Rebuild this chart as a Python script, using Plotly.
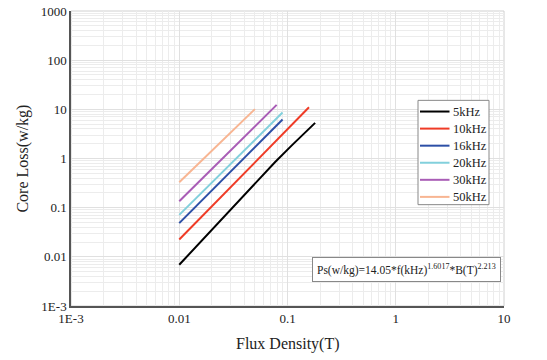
import plotly.graph_objects as go

# Data
series_names = ["5kHz", "10kHz", "16kHz", "20kHz", "30kHz", "50kHz"]
b_5k = [0.01, 0.0765, 0.109, 0.18]
p_5k = [0.0069, 0.84, 1.83, 5.3]
b_10k = [0.01, 0.1, 0.158]
p_10k = [0.0225, 3.8, 11.0]
b_16k = [0.01, 0.09]
p_16k = [0.0484, 6.2]
b_20k = [0.01, 0.09]
p_20k = [0.0714, 8.6]
b_30k = [0.01, 0.0794]
p_30k = [0.135, 12.3]
b_50k = [0.01, 0.05]
p_50k = [0.33, 10.1]

x_tickvals = [0.001, 0.01, 0.1, 1, 10]
x_ticktext = ["1E-3", "0.01", "0.1", "1", "10"]
y_tickvals = [0.001, 0.01, 0.1, 1, 10, 100, 1000]
y_ticktext = ["1E-3", "0.01", "0.1", "1", "10", "100", "1000"]

colors = ["#000000", "#ef3b26", "#2c4fa6", "#82d0dc", "#a95db6", "#f8b592"]
xs = [b_5k, b_10k, b_16k, b_20k, b_30k, b_50k]
ys = [p_5k, p_10k, p_16k, p_20k, p_30k, p_50k]

FONT = "Times New Roman, Liberation Serif, serif"

W, H = 547, 360
ML, MR, MT, MB = 71, 43, 11, 53.5
PW, PH = W - ML - MR, H - MT - MB


def px_x(px):
    return (px - ML) / PW


def px_y(py):
    return (H - MB - py) / PH


fig = go.Figure()
for name, x, y, c in zip(series_names, xs, ys, colors):
    fig.add_trace(go.Scatter(x=x, y=y, mode="lines", name=name,
                             line=dict(color=c, width=2), showlegend=False))

grid = "#ececec"
fig.update_xaxes(type="log", range=[-3, 1], tickvals=x_tickvals, ticktext=x_ticktext,
                 showgrid=True, gridcolor="#e0e0e0", gridwidth=1,
                 minor=dict(dtick="D1", showgrid=True, gridcolor=grid, gridwidth=1, ticks=""),
                 showline=True, linecolor="#555555", linewidth=1.5, zeroline=False,
                 automargin=False,
                 ticks="", tickfont=dict(family=FONT, size=13, color="#222"))
fig.update_yaxes(type="log", range=[-3, 3], tickvals=y_tickvals, ticktext=y_ticktext,
                 showgrid=True, gridcolor="#e0e0e0", gridwidth=1,
                 minor=dict(dtick="D1", showgrid=True, gridcolor=grid, gridwidth=1, ticks=""),
                 showline=True, linecolor="#555555", linewidth=1.5, zeroline=False,
                 automargin=False,
                 ticks="", tickfont=dict(family=FONT, size=13, color="#222"))

fig.add_shape(type="rect", xref="paper", yref="paper", x0=0, y0=0, x1=1, y1=1,
              line=dict(color="#d0d0d0", width=1), layer="below")

# legend box (drawn by hand to match the compact reference legend)
fig.add_shape(type="rect", xref="paper", yref="paper",
              x0=px_x(418), x1=px_x(489), y0=px_y(205), y1=px_y(100.5),
              line=dict(color="#888888", width=1), fillcolor="white", layer="above")
for i, (name, c) in enumerate(zip(series_names, colors)):
    yy = 111.7 + i * 17.1
    fig.add_shape(type="line", xref="paper", yref="paper",
                  x0=px_x(420), x1=px_x(449.5), y0=px_y(yy), y1=px_y(yy),
                  line=dict(color=c, width=2), layer="above")
    fig.add_annotation(xref="paper", yref="paper", x=px_x(451), y=px_y(yy),
                       xanchor="left", yanchor="middle", text=name, showarrow=False,
                       font=dict(family=FONT, size=12.5, color="#222"))

# axis titles
fig.add_annotation(xref="paper", yref="paper", x=0.5, y=-0.13, xanchor="center", yanchor="middle",
                   text="Flux Density(T)", showarrow=False,
                   font=dict(family=FONT, size=16, color="#222"))
fig.add_annotation(xref="paper", yref="paper", x=-0.113, y=0.5, xanchor="center", yanchor="middle",
                   text="Core Loss(w/kg)", showarrow=False, textangle=-90,
                   font=dict(family=FONT, size=16, color="#222"))

fig.add_annotation(xref="paper", yref="paper", x=px_x(312), y=px_y(270), xanchor="left", yanchor="middle",
                   text="Ps(w/kg)=14.05*f(kHz)<sup>1.6017</sup>*B(T)<sup>2.213</sup>",
                   showarrow=False, font=dict(family=FONT, size=11.5, color="#222"),
                   bordercolor="#888888", borderwidth=1, borderpad=4, bgcolor="white", align="left")

fig.update_layout(
    width=W, height=H,
    margin=dict(l=ML, r=MR, t=MT, b=MB, autoexpand=False),
    plot_bgcolor="white", paper_bgcolor="white",
    font=dict(family=FONT, size=13, color="#222"),
    showlegend=False,
)

fig.write_html("out.html", config={"displayModeBar": False},
               post_script="document.body.style.margin='0';document.body.style.overflow='hidden';")
